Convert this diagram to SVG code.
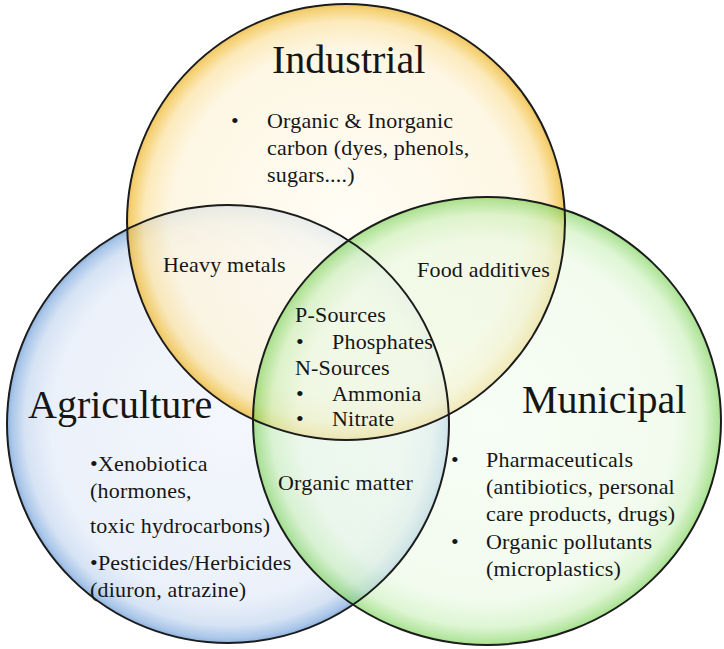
<svg xmlns="http://www.w3.org/2000/svg" width="724" height="649" viewBox="0 0 724 649">
<style>
text { font-family: "Liberation Serif", "Times New Roman", serif; fill: #161616; }
.title { font-size: 40px; }
.body { font-size: 22px; letter-spacing: 0.2px; }
.outline { fill: none; stroke: #1c1c1c; stroke-width: 2; }
</style>
<defs>
<radialGradient id="gYellow" cx="0.5" cy="0.5" r="0.5">
<stop offset="0" stop-color="#fffcf2"/>
<stop offset="0.8" stop-color="#fdf4dc"/>
<stop offset="0.92" stop-color="#fbe4a8"/>
<stop offset="0.98" stop-color="#f3c54f"/>
<stop offset="1" stop-color="#e9b43a"/>
</radialGradient>
<radialGradient id="gBlue" cx="0.5" cy="0.5" r="0.5">
<stop offset="0" stop-color="#f4f7fc"/>
<stop offset="0.8" stop-color="#ebf1fa"/>
<stop offset="0.92" stop-color="#d6e3f4"/>
<stop offset="0.98" stop-color="#a9c6e9"/>
<stop offset="1" stop-color="#8fb2de"/>
</radialGradient>
<radialGradient id="gGreen" cx="0.5" cy="0.5" r="0.5">
<stop offset="0" stop-color="#f3fdf0"/>
<stop offset="0.8" stop-color="#e9f9e3"/>
<stop offset="0.92" stop-color="#caf0b9"/>
<stop offset="0.98" stop-color="#8bd86b"/>
<stop offset="1" stop-color="#6ecf48"/>
</radialGradient>
</defs>
<rect width="724" height="649" fill="#ffffff"/>
<g id="circles">
<g id="agriculture"><ellipse cx="228" cy="424" rx="221" ry="219" fill="url(#gBlue)"/></g>
<g id="industrial"><ellipse cx="346" cy="222" rx="219" ry="218" fill="url(#gYellow)" fill-opacity="0.78"/></g>
<g id="municipal"><ellipse cx="487" cy="421" rx="234" ry="224" fill="url(#gGreen)" fill-opacity="0.62"/></g>
</g>
<g id="outlines">
<ellipse class="outline" cx="228" cy="424" rx="221" ry="219"/>
<ellipse class="outline" cx="346" cy="222" rx="219" ry="218"/>
<ellipse class="outline" cx="487" cy="421" rx="234" ry="224"/>
</g>
<g id="industrial-labels">
<text class="title" x="272" y="73">Industrial</text>
<text class="body" x="231" y="128">•</text>
<text class="body" x="267" y="128">Organic &amp; Inorganic</text>
<text class="body" x="267" y="155">carbon (dyes, phenols,</text>
<text class="body" x="267" y="182">sugars....)</text>
</g>
<g id="heavy-metals"><text class="body" x="163" y="272">Heavy metals</text></g>
<g id="food-additives"><text class="body" x="417" y="277">Food additives</text></g>
<g id="nutrients">
<text class="body" x="295" y="322">P-Sources</text>
<text class="body" x="296" y="349">•</text>
<text class="body" x="332" y="349">Phosphates</text>
<text class="body" x="295" y="375">N-Sources</text>
<text class="body" x="296" y="401">•</text>
<text class="body" x="332" y="401">Ammonia</text>
<text class="body" x="296" y="426">•</text>
<text class="body" x="332" y="426">Nitrate</text>
</g>
<g id="organic-matter"><text class="body" x="278" y="490">Organic matter</text></g>
<g id="agriculture-labels">
<text class="title" x="28" y="418">Agriculture</text>
<text class="body" x="90" y="471">•Xenobiotica</text>
<text class="body" x="90" y="498">(hormones,</text>
<text class="body" x="90" y="533">toxic hydrocarbons)</text>
<text class="body" x="90" y="570">•Pesticides/Herbicides</text>
<text class="body" x="90" y="597">(diuron, atrazine)</text>
</g>
<g id="municipal-labels">
<text class="title" x="522" y="413">Municipal</text>
<text class="body" x="451" y="467">•</text>
<text class="body" x="486" y="467">Pharmaceuticals</text>
<text class="body" x="486" y="494">(antibiotics, personal</text>
<text class="body" x="486" y="521">care products, drugs)</text>
<text class="body" x="451" y="549">•</text>
<text class="body" x="486" y="549">Organic pollutants</text>
<text class="body" x="486" y="576">(microplastics)</text>
</g>
</svg>
